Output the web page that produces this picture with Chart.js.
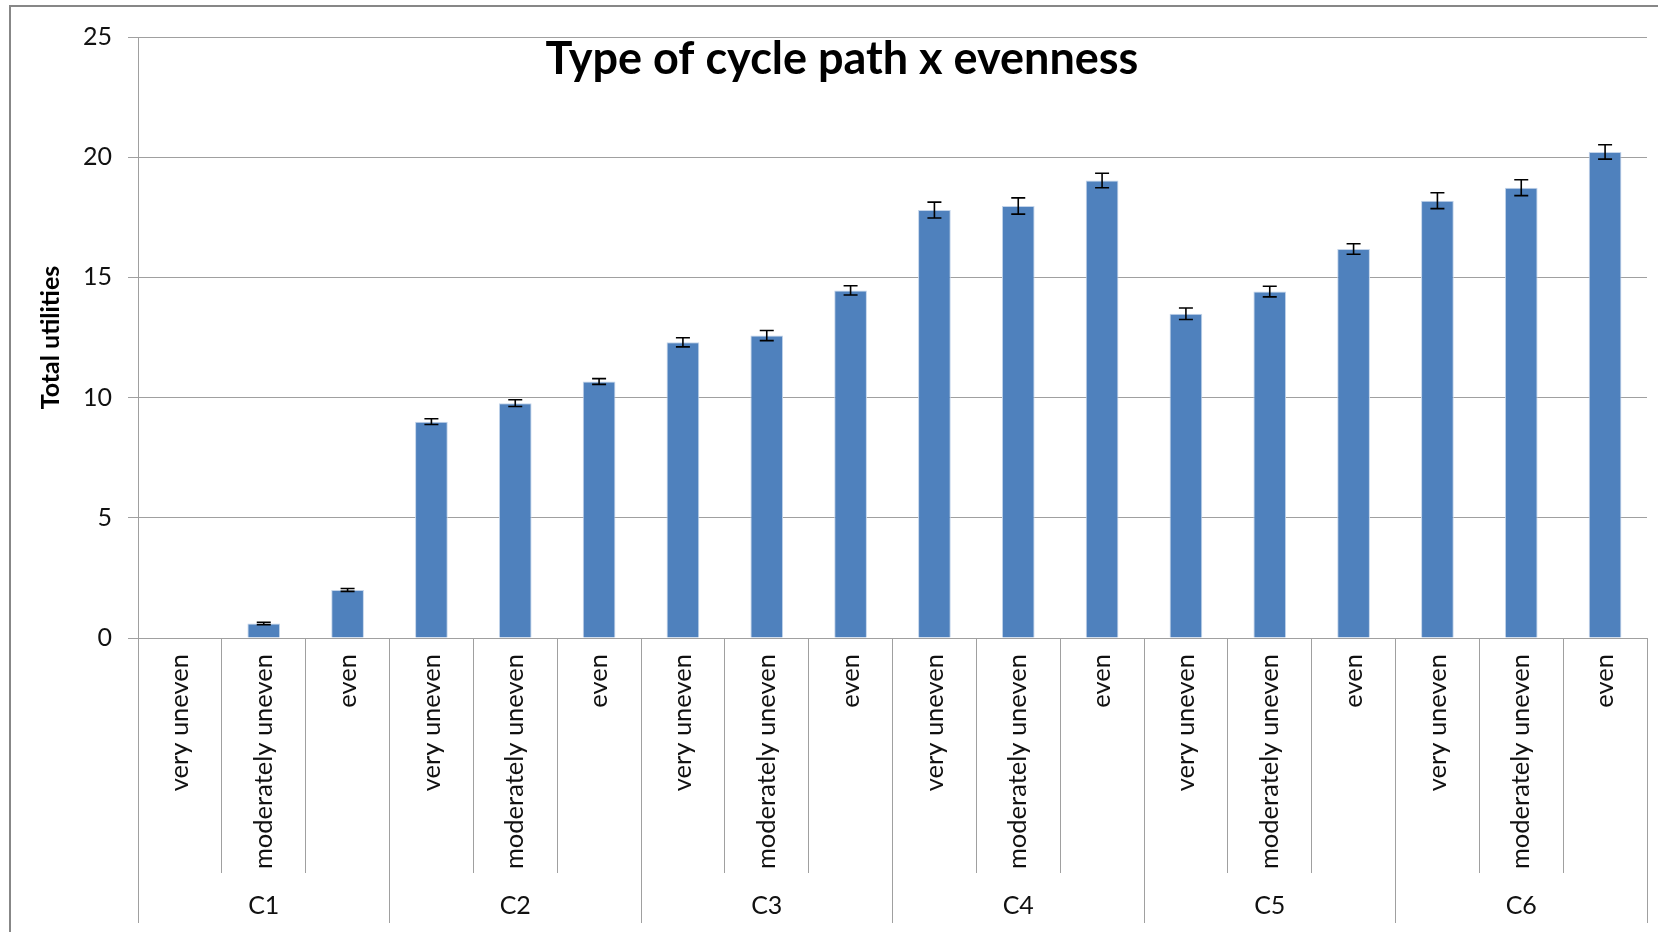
<!DOCTYPE html>
<html>
<head>
<meta charset="utf-8">
<title>Type of cycle path x evenness</title>
<script src="https://cdn.jsdelivr.net/npm/chart.js@4"></script>
<style>
    html, body {
        margin: 0;
        padding: 0;
        background: #ffffff;
        overflow: hidden;
    }
    .frame {
        position: absolute;
        left: 9px;
        top: 5px;
        width: 1720px;
        height: 1000px;
        border: 2px solid #878787;
    }
    .chart-box {
        position: absolute;
        left: 0;
        top: 0;
        width: 1658px;
        height: 932px;
    }
</style>
</head>
<body>
<div class="frame"></div>
<div class="chart-box">
    <canvas id="cycleChart" width="1658" height="932"></canvas>
</div>
<script>
// Data
const groups = ['C1', 'C2', 'C3', 'C4', 'C5', 'C6'];
const evenness = ['very uneven', 'moderately uneven', 'even'];
const utilities = [0, 0.6, 2.0, 9.0, 9.77, 10.67, 12.3, 12.58, 14.46, 17.8, 17.97, 19.03, 13.49, 14.41, 16.18, 18.19, 18.73, 20.22];
const stdErrors = [0, 0.05, 0.06, 0.12, 0.14, 0.12, 0.19, 0.21, 0.19, 0.33, 0.34, 0.3, 0.24, 0.22, 0.22, 0.33, 0.33, 0.3];
const yTicks = [0, 5, 10, 15, 20, 25];

const FONT = 'Lato, "Open Sans", sans-serif';
const GRID = '#a0a0a0';
const TEXT = '#111111';

// one label per bar: evenness repeated within each cycle path type
const barLabels = [];
groups.forEach(() => evenness.forEach(e => barLabels.push(e)));

/**
 * Error bars drawn on top of the bars
 */
const errorBars = {
    id: 'errorBars',
    afterDatasetsDraw(chart) {
        const ctx = chart.ctx;
        const y = chart.scales.y;
        const meta = chart.getDatasetMeta(0);
        ctx.save();
        ctx.strokeStyle = '#000000';
        ctx.lineWidth = 1.6;
        meta.data.forEach((bar, i) => {
            const v = utilities[i];
            const e = stdErrors[i];
            if (!v) return;
            const top = y.getPixelForValue(v + e);
            const bot = y.getPixelForValue(v - e);
            const x = bar.x;
            ctx.beginPath();
            ctx.moveTo(x, top);
            ctx.lineTo(x, bot);
            ctx.moveTo(x - 7, top);
            ctx.lineTo(x + 7, top);
            ctx.moveTo(x - 7, bot);
            ctx.lineTo(x + 7, bot);
            ctx.stroke();
        });
        ctx.restore();
    }
};

/**
 * Chart title sits inside the plot, like the spreadsheet original
 */
const insideTitle = {
    id: 'insideTitle',
    afterDraw(chart) {
        const ctx = chart.ctx;
        ctx.save();
        ctx.fillStyle = '#000000';
        ctx.font = 'bold 45px ' + FONT;
        ctx.textAlign = 'center';
        ctx.textBaseline = 'alphabetic';
        ctx.fillText('Type of cycle path x evenness', 842, 74);
        ctx.restore();
    }
};

new Chart(document.getElementById('cycleChart'), {
    type: 'bar',
    data: {
        labels: barLabels,
        datasets: [{
            label: 'Total utilities',
            data: utilities,
            backgroundColor: '#4f81bd',
            borderColor: '#c3d4ea',
            borderWidth: 1,
            barPercentage: 0.39,
            categoryPercentage: 1.0
        }]
    },
    options: {
        responsive: false,
        animation: false,
        layout: {
            padding: { left: 20, top: 37, right: 11, bottom: 9 }
        },
        plugins: {
            legend: { display: false },
            tooltip: { enabled: false }
        },
        scales: {
            y: {
                min: 0,
                max: 25,
                afterBuildTicks(scale) {
                    scale.ticks = yTicks.map(v => ({ value: v }));
                },
                afterFit(scale) {
                    scale.width = 118;
                },
                grid: {
                    color: GRID,
                    tickLength: 10
                },
                border: { color: GRID },
                ticks: {
                    padding: 16,
                    color: TEXT,
                    font: { family: FONT, size: 25 }
                },
                title: {
                    display: true,
                    text: 'Total utilities',
                    color: '#000000',
                    padding: { top: 16, bottom: 0 },
                    font: { family: FONT, size: 25, weight: 'bold' }
                }
            },
            x: {
                offset: true,
                afterFit(scale) {
                    scale.height = 235;
                },
                grid: {
                    offset: true,
                    drawOnChartArea: false,
                    tickLength: 235,
                    color: GRID
                },
                border: { color: GRID },
                ticks: {
                    autoSkip: false,
                    minRotation: 90,
                    maxRotation: 90,
                    padding: -219,
                    color: TEXT,
                    font: { family: FONT, size: 25.5 }
                }
            },
            x2: {
                type: 'category',
                labels: groups,
                position: 'bottom',
                weight: 1,
                offset: true,
                afterFit(scale) {
                    scale.height = 50;
                },
                grid: {
                    offset: true,
                    drawOnChartArea: false,
                    tickLength: 50,
                    color: GRID
                },
                border: { display: false },
                ticks: {
                    autoSkip: false,
                    maxRotation: 0,
                    padding: -32,
                    color: TEXT,
                    font: { family: FONT, size: 25 }
                }
            }
        }
    },
    plugins: [errorBars, insideTitle]
});
</script>
</body>
</html>
